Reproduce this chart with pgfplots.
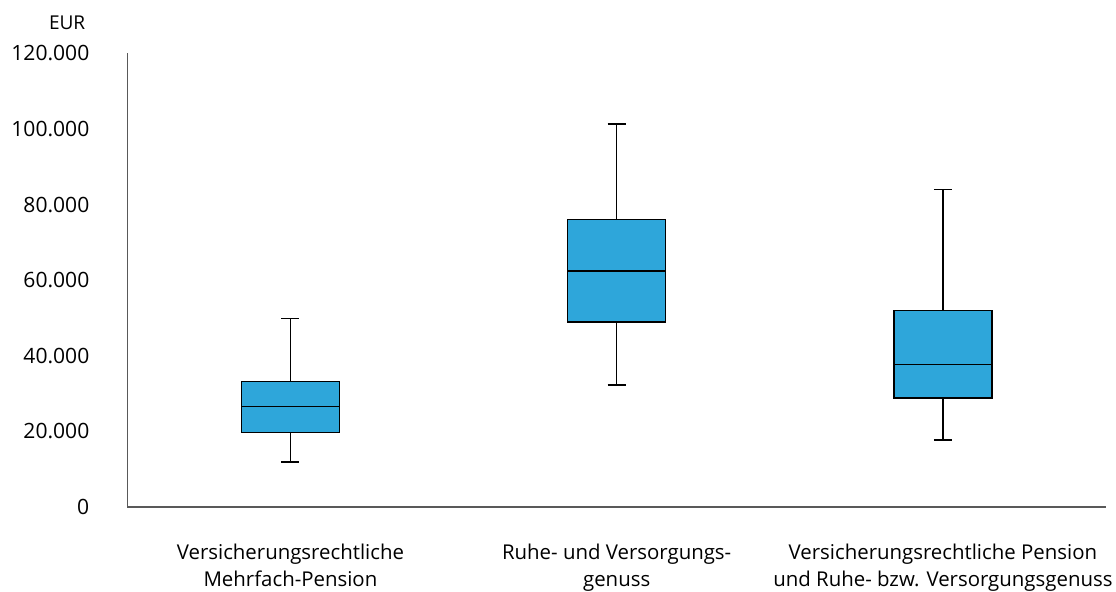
\documentclass[border=0pt]{standalone}
\usepackage{pgfplots}
\pgfplotsset{compat=1.18}
\usepackage{fontspec}
\setmainfont{Open Sans}
\definecolor{boxblue}{RGB}{46,166,218}
\definecolor{axisgray}{RGB}{89,89,89}
\begin{document}
\begin{tikzpicture}
\begin{axis}[
  at={(0,0)}, anchor=south west,
  scale only axis,
  width=734pt, height=340.3pt,
  xmin=-0.5, xmax=2.5,
  ymin=0, ymax=120,
  axis x line*=bottom, axis y line*=left,
  axis line style={axisgray, line width=1pt},
  xtick={0,1,2},
  xticklabels={{Versicherungsrechtliche\\Mehrfach-Pension},{Ruhe- und Versorgungs-\\genuss},{Versicherungsrechtliche Pension\\und Ruhe- bzw. Versorgungsgenuss}},
  xticklabel style={align=center, anchor=north, yshift=-24pt, font=\fontsize{15.3}{20.3}\selectfont},
  ytick={0,20,40,60,80,100,120},
  yticklabels={0,20.000,40.000,60.000,80.000,100.000,120.000},
  yticklabel style={anchor=east, xshift=-25pt, font=\fontsize{15.8}{18}\selectfont},
  tick style={draw=none},
  clip=false,
  unbounded coords=jump,
]
% Box 1: lower whisker, Q1, median, Q3, upper whisker = 11.9, 19.65, 26.65, 33.15, 49.9
\addplot[fill=boxblue, draw=black, solid, line width=1.1pt, mark=none, line join=miter] coordinates {(-0.15,19.65) (0.15,19.65) (0.15,33.15) (-0.15,33.15)} -- cycle;
\addplot[black, solid, line width=1.1pt, mark=none] coordinates {(-0.15,26.65) (0.15,26.65) (nan,nan) (0,33.15) (0,49.9) (nan,nan) (-0.0275,49.9) (0.0275,49.9) (nan,nan) (0,19.65) (0,11.9) (nan,nan) (-0.0275,11.9) (0.0275,11.9)};
% Box 2: 32.3, 49.0, 62.4, 76.1, 101.3
\addplot[fill=boxblue, draw=black, solid, line width=1.1pt, mark=none, line join=miter] coordinates {(0.85,49.0) (1.15,49.0) (1.15,76.1) (0.85,76.1)} -- cycle;
\addplot[black, solid, line width=1.1pt, mark=none] coordinates {(0.85,62.4) (1.15,62.4) (nan,nan) (1,76.1) (1,101.3) (nan,nan) (0.9725,101.3) (1.0275,101.3) (nan,nan) (1,49.0) (1,32.3) (nan,nan) (0.9725,32.3) (1.0275,32.3)};
% Box 3: 17.7, 28.9, 37.65, 52.0, 84.0
\addplot[fill=boxblue, draw=black, solid, line width=1.1pt, mark=none, line join=miter] coordinates {(1.85,28.9) (2.15,28.9) (2.15,52.0) (1.85,52.0)} -- cycle;
\addplot[black, solid, line width=1.1pt, mark=none] coordinates {(1.85,37.65) (2.15,37.65) (nan,nan) (2,52.0) (2,84.0) (nan,nan) (1.9725,84.0) (2.0275,84.0) (nan,nan) (2,28.9) (2,17.7) (nan,nan) (1.9725,17.7) (2.0275,17.7)};
\end{axis}
\node[anchor=east, font=\fontsize{14.3}{16}\selectfont] at (-28pt,363.3pt) {EUR};
\pgfresetboundingbox
\path[use as bounding box] (-95.5pt,-63pt) rectangle (741.5pt,380.3pt);
\end{tikzpicture}
\end{document}
